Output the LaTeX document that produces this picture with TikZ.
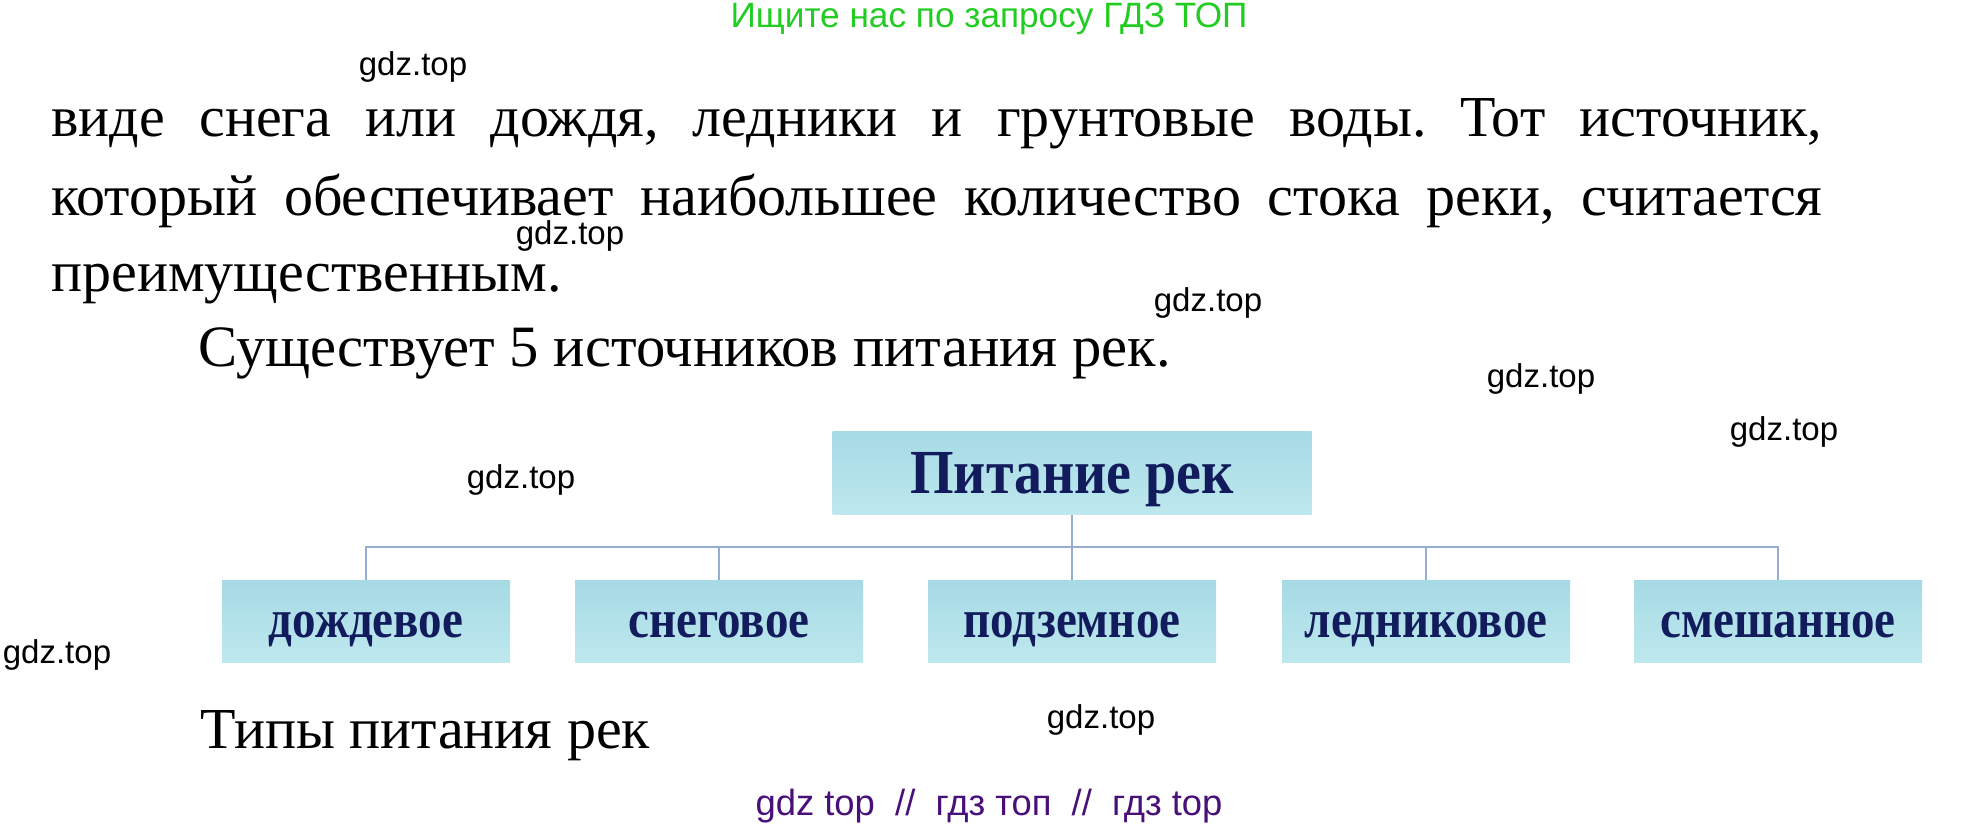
\documentclass[tikz,border=0pt]{standalone}
\usepackage{fontspec}
\setmainfont{Liberation Serif}
\newfontfamily\gdzfont{Liberation Sans}
\usepackage{graphicx}
\frenchspacing

\newlength{\du}
\setlength{\du}{0.5pt}

\definecolor{searchgreen}{RGB}{34,204,34}
\definecolor{footerpurple}{RGB}{72,16,120}
\definecolor{dropcolor}{RGB}{166,218,228}
\definecolor{droplight}{RGB}{190,232,238}
\definecolor{labelnavy}{RGB}{18,28,92}
\definecolor{linkcolor}{RGB}{150,172,208}

\tikzset{
  gdzmark/.style={font=\gdzfont\fontsize{16.5}{19}\selectfont, inner sep=0pt},
  bodyline/.style={font=\fontsize{29}{34}\selectfont, anchor=base west, inner sep=0pt},
  dropbox/.style={top color=dropcolor, bottom color=droplight, draw=none,
    minimum width=288\du, minimum height=82\du, inner sep=0pt,
    text height=40\du, text depth=8\du,
    text=labelnavy, font=\bfseries\fontsize{23.5}{28}\selectfont},
  link/.style={draw=linkcolor, line width=2\du}
}

\begin{document}
\begin{tikzpicture}
\pgftransformxscale{1.000000}
\pgftransformyscale{-1.000000}
\useasboundingbox (0\du,0\du) rectangle (1980\du,832\du);
% header and footer
\node[font=\gdzfont\fontsize{17.6}{20}\selectfont, text=searchgreen, inner sep=0pt] (search) at (989\du,19\du){Ищите нас по запросу ГДЗ ТОП};
\node[font=\gdzfont\fontsize{18.2}{20}\selectfont, text=footerpurple, inner sep=0pt] (footer) at (989\du,806\du){gdz top\ \ //\ \ гдз топ\ \ //\ \ гдз top};
% text
\node[bodyline] (line1) at (51\du,136\du){\makebox[1771\du][s]{виде снега или дождя, ледники и грунтовые воды. Тот источник,}};
\node[bodyline] (line2) at (51\du,215\du){\makebox[1771\du][s]{который обеспечивает наибольшее количество стока реки, считается}};
\node[bodyline] (line3) at (51\du,291\du){преимущественным.};
\node[bodyline, font=\fontsize{29.3}{34}\selectfont] (line4) at (198\du,366\du){Существует 5 источников питания рек.};
\node[bodyline] (caption) at (200\du,748\du){Типы питания рек};
% scheme
\node[dropbox, minimum width=479\du, minimum height=83\du, text height=50\du, text depth=10\du, font=\bfseries\fontsize{28}{33}\selectfont] (pitanie) at (1072\du,473\du){\scalebox{1}[1.12]{Питание рек}};
\node[dropbox] (dozhd) at (366\du,621\du){\scalebox{1}[1.15]{дождевое}};
\node[dropbox] (sneg) at (719\du,621\du){\scalebox{1}[1.15]{снеговое}};
\node[dropbox] (podzem) at (1072\du,621\du){\scalebox{1}[1.15]{подземное}};
\node[dropbox] (lednik) at (1426\du,621\du){\scalebox{1}[1.15]{ледниковое}};
\node[dropbox] (smesh) at (1778\du,621\du){\scalebox{1}[1.15]{смешанное}};
\foreach \kind in {dozhd,sneg,podzem,lednik,smesh}
  \draw[link] (pitanie.south) -- ++(0,32\du) -| (\kind.north);
% watermarks
\node[gdzmark] (wm1) at (413\du,67\du){gdz.top};
\node[gdzmark] (wm2) at (570\du,236\du){gdz.top};
\node[gdzmark] (wm3) at (1208\du,303\du){gdz.top};
\node[gdzmark] (wm4) at (1541\du,379\du){gdz.top};
\node[gdzmark] (wm5) at (1784\du,432\du){gdz.top};
\node[gdzmark] (wm6) at (521\du,480\du){gdz.top};
\node[gdzmark] (wm7) at (57\du,655\du){gdz.top};
\node[gdzmark] (wm8) at (1101\du,720\du){gdz.top};
\end{tikzpicture}
\end{document}
